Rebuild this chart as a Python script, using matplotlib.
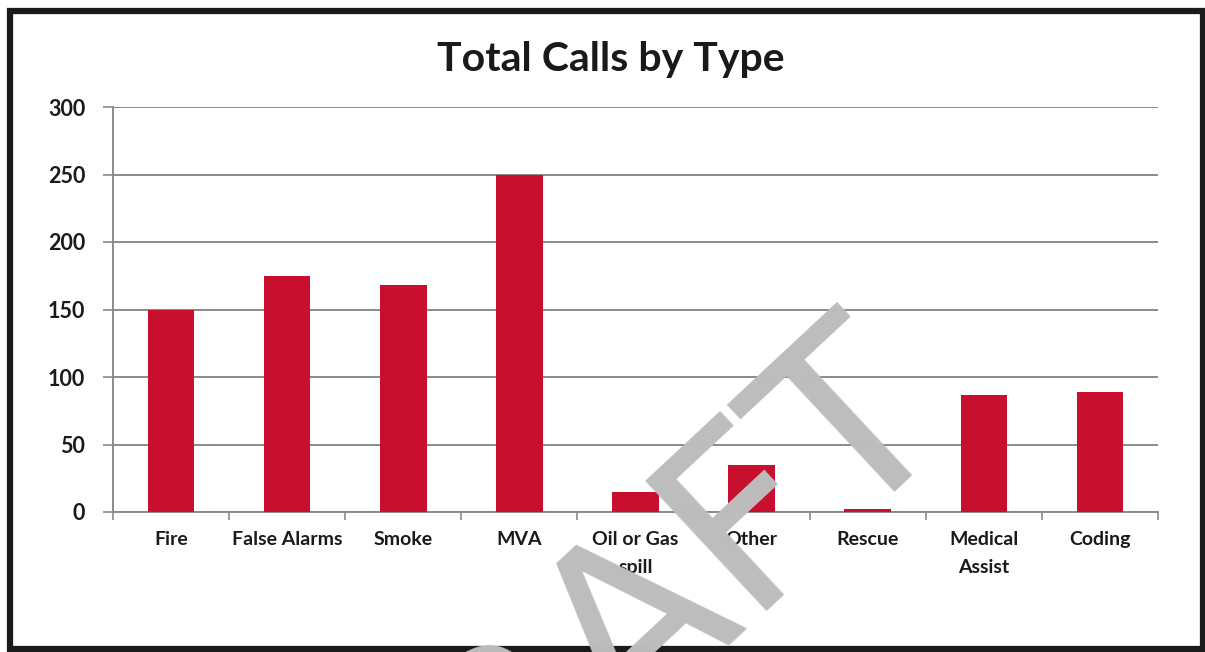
import numpy as np
import matplotlib
matplotlib.use("Agg")
import matplotlib.pyplot as plt
from matplotlib.patches import Rectangle

categories = ["Fire", "False Alarms", "Smoke", "MVA", "Oil or Gas\nspill",
              "Other", "Rescue", "Medical\nAssist", "Coding"]
calls = [150, 175, 168, 250, 15, 35, 2, 87, 89]
y_ticks = [0, 50, 100, 150, 200, 250, 300]

plt.rcParams['font.family'] = ['Lato', 'DejaVu Sans']

fig = plt.figure(figsize=(12.05, 6.52), dpi=100)
ax = fig.add_axes([113/1205, 1 - 512/652, (1158 - 113)/1205, (512 - 107)/652])

x = np.arange(len(categories))
ax.bar(x, calls, width=0.4, color="#C8102E", zorder=3)

ax.set_xlim(-0.5, len(categories) - 0.5)
ax.set_ylim(0, 300)
ax.set_yticks(y_ticks)
ax.set_yticklabels([str(v) for v in y_ticks], fontsize=15.5, fontweight='bold', color='#1a1a1a')
ax.yaxis.grid(True, color='#8a8a8a', linewidth=1.4, zorder=0)
ax.set_axisbelow(True)

# ticks sit on category boundaries, labels at the centres
ax.set_xticks(np.arange(len(categories) + 1) - 0.5)
ax.set_xticklabels([])
ax.set_xticks(x, minor=True)
ax.set_xticklabels(categories, minor=True, fontsize=14, fontweight='bold',
                   color='#1a1a1a', linespacing=1.75)
ax.tick_params(axis='x', which='minor', length=0, pad=14)
ax.tick_params(axis='x', which='major', length=6, width=1.2, color='#8a8a8a', direction='out')
ax.tick_params(axis='y', length=7, width=1.2, color='#8a8a8a', pad=13)

for side in ['top', 'right']:
    ax.spines[side].set_visible(False)
for side in ['left', 'bottom']:
    ax.spines[side].set_color('#8a8a8a')
    ax.spines[side].set_linewidth(1.4)

fig.text(0.507, 1 - 60/652, "Total Calls by Type", ha='center', va='center',
         fontsize=29.5, fontweight='bold', color='#1a1a1a')

# DRAFT watermark
fig.text(952/1205, 1 - 416/652, "DRAFT", rotation=43, rotation_mode='anchor',
         ha='right', va='baseline', fontsize=176, color='#bdbdbd',
         family='DejaVu Sans', zorder=10)

# page frame
fig.patches.append(Rectangle((10/1205, 3/652), 1 - 12/1205, 1 - 14/652, transform=fig.transFigure,
                             fill=False, edgecolor='#1a1a1a', linewidth=4.5))

fig.savefig("out.png", dpi=100)
